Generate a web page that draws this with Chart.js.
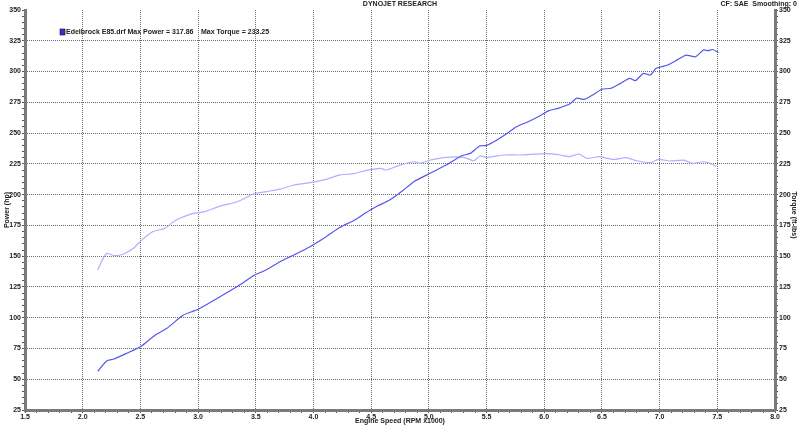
<!DOCTYPE html>
<html>
<head>
<meta charset="utf-8">
<script src="https://cdn.jsdelivr.net/npm/chart.js@4.4.0/dist/chart.umd.min.js"></script>
<style>
  html, body { margin: 0; padding: 0; background: #fff; }
  #wrap { width: 800px; height: 425px; }
</style>
</head>
<body>
<div id="wrap"><canvas id="dynoChart" width="800" height="425"></canvas></div>
<script>
// values
const powerRpm = [2.13, 2.21, 2.27, 2.38, 2.50, 2.63, 2.73, 2.87, 3.00, 3.19, 3.36, 3.49, 3.59, 3.71, 3.83, 3.97, 4.11, 4.23, 4.35, 4.45, 4.55, 4.66, 4.77, 4.87, 5.01, 5.15, 5.28, 5.36, 5.44, 5.50, 5.59, 5.67, 5.76, 5.86, 5.96, 6.04, 6.12, 6.22, 6.28, 6.35, 6.42, 6.50, 6.58, 6.66, 6.74, 6.79, 6.86, 6.92, 6.97, 7.07, 7.16, 7.23, 7.31, 7.38, 7.42, 7.46, 7.51];
const powerHp = [56.5, 65, 66.4, 71, 76.4, 86, 91.4, 102, 106.8, 117, 126.5, 134.7, 138.8, 145.5, 151, 157.7, 165.8, 173.4, 179, 185, 190.5, 195.6, 203, 210.5, 217.3, 224, 231.4, 233.5, 239.5, 240, 244.4, 249.2, 255.2, 259.2, 263.9, 268.2, 270.1, 273.6, 278.3, 277.4, 281, 285.6, 286.4, 290.4, 294.5, 292.6, 298.5, 297.2, 302.6, 305.3, 309.9, 313.4, 312, 317.5, 317, 317.9, 315.5];

const torqueRpm = [2.13, 2.17, 2.21, 2.27, 2.35, 2.44, 2.51, 2.61, 2.71, 2.81, 2.96, 3.05, 3.19, 3.34, 3.48, 3.59, 3.71, 3.83, 3.97, 4.11, 4.23, 4.35, 4.45, 4.58, 4.63, 4.75, 4.87, 4.92, 5.01, 5.15, 5.30, 5.39, 5.44, 5.50, 5.65, 5.79, 6.02, 6.14, 6.22, 6.30, 6.37, 6.48, 6.60, 6.71, 6.80, 6.92, 6.99, 7.09, 7.21, 7.29, 7.38, 7.45, 7.49];
const torqueLbft = [138.7, 147, 152.3, 150.5, 151.5, 156.4, 163, 170, 172.5, 179.4, 184.8, 186, 190.7, 194.2, 200.5, 202.4, 204.4, 207.8, 209.7, 212.4, 216, 217, 219.5, 221.4, 220, 224, 226.7, 225.4, 228, 230.3, 230.3, 227.5, 231.4, 230.3, 232.2, 232.2, 233.3, 232.2, 230.8, 233, 229.5, 230.8, 228.6, 230, 227.5, 226, 228.6, 227.3, 228, 225.4, 226.7, 224.9, 222.7];

const rpmLabels = ['1.5', '2.0', '2.5', '3.0', '3.5', '4.0', '4.5', '5.0', '5.5', '6.0', '6.5', '7.0', '7.5', '8.0'];
const valueLabels = [25, 50, 75, 100, 125, 150, 175, 200, 225, 250, 275, 300, 325, 350];

const runName = 'Edelbrock E85.drf';
const maxPower = '317.86';
const maxTorque = '233.25';

const FONT = 'Liberation Sans';
const tickFont = { family: FONT, size: 7, weight: 'bold' };

function toPoints(xs, ys) {
    return xs.map((x, i) => ({ x: x, y: ys[i] }));
}

// minor tick every 0.1 rpm / 5 units, labels only on the majors
function rpmTicks(scale) {
    const t = [];
    for (let i = 15; i <= 80; i++) t.push({ value: i / 10 });
    scale.ticks = t;
}
function valueTicks(scale) {
    const t = [];
    for (let v = 25; v <= 350; v += 5) t.push({ value: v });
    scale.ticks = t;
}
function isMajorRpm(v) {
    return rpmLabels.includes(v.toFixed(1));
}
function isMajorVal(v) {
    return valueLabels.includes(v);
}

const dotted = 'rgba(80,80,80,0.85)';
const axisGray = '#7a7a7a';

const textPlugin = {
    id: 'dynoText',
    afterDraw(chart) {
        const ctx = chart.ctx;
        const area = chart.chartArea;
        ctx.save();
        ctx.fillStyle = '#222';
        ctx.textBaseline = 'middle';

        ctx.font = 'bold 7px ' + FONT;
        ctx.textAlign = 'center';
        ctx.fillText('DYNOJET RESEARCH', 400, 4);
        ctx.textAlign = 'right';
        ctx.fillText('CF: SAE  Smoothing: 0', 797, 4);

        // legend
        ctx.fillStyle = '#3333cc';
        ctx.fillRect(60, 29, 5, 6);
        ctx.strokeStyle = '#111';
        ctx.lineWidth = 0.6;
        ctx.strokeRect(60, 29, 5, 6);
        ctx.fillStyle = '#222';
        ctx.textAlign = 'left';
        ctx.fillText(runName + ' Max Power = ' + maxPower, 66, 32);
        ctx.fillText('Max Torque = ' + maxTorque, 201, 32);

        // axis titles
        ctx.textAlign = 'center';
        ctx.fillText('Engine Speed (RPM x1000)', (area.left + area.right) / 2, 421);

        ctx.translate(7, 210);
        ctx.rotate(-Math.PI / 2);
        ctx.fillText('Power (hp)', 0, 0);
        ctx.restore();

        ctx.save();
        ctx.fillStyle = '#222';
        ctx.font = 'bold 7px ' + FONT;
        ctx.textAlign = 'center';
        ctx.textBaseline = 'middle';
        ctx.translate(794, 215);
        ctx.rotate(Math.PI / 2);
        ctx.fillText('Torque (ft-lbs)', 0, 0);
        ctx.restore();
    }
};

new Chart(document.getElementById('dynoChart').getContext('2d'), {
    type: 'line',
    data: {
        datasets: [
            {
                label: 'Power',
                data: toPoints(powerRpm, powerHp),
                borderColor: 'rgb(85, 85, 235)',
                borderWidth: 1.2,
                pointRadius: 0,
                fill: false,
                tension: 0.2,
                yAxisID: 'y'
            },
            {
                label: 'Torque',
                data: toPoints(torqueRpm, torqueLbft),
                borderColor: 'rgb(175, 175, 255)',
                borderWidth: 1.2,
                pointRadius: 0,
                fill: false,
                tension: 0.2,
                yAxisID: 'y2'
            }
        ]
    },
    options: {
        responsive: false,
        animation: false,
        layout: { padding: { top: 10, left: 0, right: 0, bottom: 0 } },
        plugins: {
            legend: { display: false },
            tooltip: { enabled: false }
        },
        scales: {
            x: {
                type: 'linear',
                min: 1.5,
                max: 8.0,
                afterBuildTicks: rpmTicks,
                afterFit: s => { s.height = 15; },
                ticks: {
                    autoSkip: false,
                    maxRotation: 0,
                    padding: 0,
                    color: '#222',
                    font: tickFont,
                    callback: v => isMajorRpm(v) ? v.toFixed(1) : ''
                },
                grid: {
                    color: c => (c.tick && isMajorRpm(c.tick.value) && c.index > 0 && c.index < 65) ? dotted : 'transparent',
                    lineWidth: 1,
                    tickColor: '#555',
                    tickLength: 3
                },
                border: { color: axisGray, width: 3, dash: [1, 1] }
            },
            y: {
                position: 'left',
                min: 25,
                max: 350,
                afterBuildTicks: valueTicks,
                afterFit: s => { s.width = 25; },
                ticks: {
                    autoSkip: false,
                    padding: 1,
                    color: '#222',
                    font: tickFont,
                    callback: v => isMajorVal(v) ? String(v) : ''
                },
                grid: {
                    color: c => (c.tick && isMajorVal(c.tick.value) && c.tick.value > 25 && c.tick.value < 350) ? dotted : 'transparent',
                    lineWidth: 1,
                    tickColor: '#555',
                    tickLength: 3
                },
                border: { color: axisGray, width: 3, dash: [1, 1] }
            },
            y2: {
                position: 'right',
                min: 25,
                max: 350,
                afterBuildTicks: valueTicks,
                afterFit: s => { s.width = 25; },
                ticks: {
                    autoSkip: false,
                    padding: 1,
                    color: '#222',
                    font: tickFont,
                    callback: v => isMajorVal(v) ? String(v) : ''
                },
                grid: {
                    drawOnChartArea: false,
                    tickColor: '#555',
                    tickLength: 3
                },
                border: { color: axisGray, width: 3 }
            }
        }
    },
    plugins: [textPlugin]
});
</script>
</body>
</html>
